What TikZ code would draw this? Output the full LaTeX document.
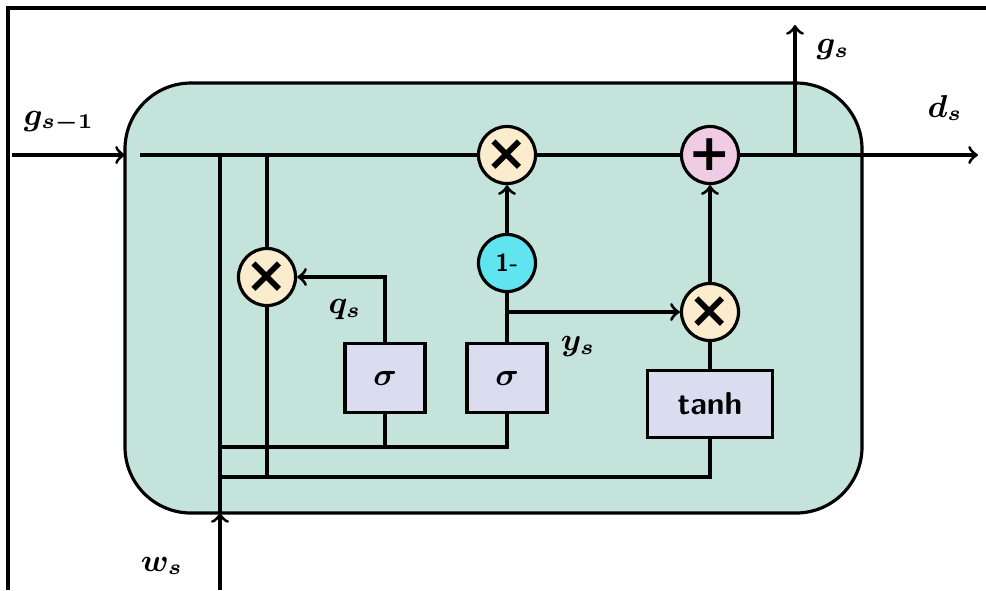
\documentclass[tikz,border=0pt]{standalone}
\usepackage{bm}
\usepackage{fontspec}
\newfontfamily\opfont{DejaVu Sans}
\definecolor{cellfill}{RGB}{196,227,218}
\definecolor{mulfill}{RGB}{250,236,204}
\definecolor{addfill}{RGB}{240,204,228}
\definecolor{onefill}{RGB}{96,228,240}
\definecolor{sigfill}{RGB}{218,221,240}
\begin{document}
\begin{tikzpicture}
	[
	x=0.01cm, y=-0.01cm,
	line width=0.9pt,
	mul/.style={draw = black, fill = mulfill, shape = circle, minimum size = 0.57cm, inner sep = 0pt, font = \opfont\bfseries\Large},
	addn/.style={draw = black, fill = addfill, shape = circle, minimum size = 0.57cm, inner sep = 0pt, font = \opfont\bfseries\Large},
	onen/.style={draw = black, fill = onefill, shape = circle, minimum size = 0.57cm, inner sep = 0pt, font = \sffamily\bfseries\scriptsize},
	gate/.style={draw = black, fill = sigfill, shape = rectangle, minimum width = 0.8cm, minimum height = 0.69cm, inner sep = 0pt, font = \small},
	lbl/.style={font = \small}
	]
	\useasboundingbox (0,0) rectangle (986,590);
	
	% page frame
	\draw[line width=1pt] (8,590) -- (8,8) -- (986,8);
	
	% cell
	\draw[fill = cellfill, rounded corners = 0.66cm] (125,83) rectangle (862,513);
	
	\node[mul](m1) at (507,155){×};
	\node[addn](add) at (710,155){+};
	\node[onen](one) at (507,263){1-};
	\node[mul](m2) at (710,312){×};
	\node[mul](m3) at (267,277){×};
	
	\node[gate](s1) at (385,378){$\bm{\sigma}$};
	\node[gate](s2) at (507,378){$\bm{\sigma}$};
	\node[gate, minimum width = 1.25cm, minimum height = 0.67cm, font = \sffamily\bfseries\small](th) at (710,404){tanh};
	
	\coordinate (gin) at (12,155);
	\coordinate (bin) at (125,155);
	\coordinate (lin) at (140,155);
	\coordinate (gout) at (978,155);
	\coordinate (gs) at (795,155);
	\coordinate (gtop) at (795,25);
	\coordinate (wbot) at (220,590);
	\coordinate (wtop) at (220,513);
	\coordinate (v1) at (220,155);
	\coordinate (v2) at (267,155);
	\coordinate (v2b) at (267,477);
	\coordinate (h1a) at (220,447);
	\coordinate (h1b) at (507,447);
	\coordinate (h1c) at (385,447);
	\coordinate (h2a) at (220,477);
	\coordinate (h2b) at (710,477);
	\coordinate (yb) at (507,312);
	
	% cell state line
	\draw[->](gin) -- (bin);
	\draw[-](lin) -- (m1);
	\draw[-](m1) -- (add);
	\draw[->](add) -- (gout);
	\draw[->](gs) -- (gtop);
	
	% inputs
	\draw[->](wbot) -- (wtop);
	\draw[-](v1) -- (wtop);
	\draw[-](v2) -- (m3);
	\draw[-](m3) -- (v2b);
	\draw[-](h1a) -- (h1b) -- (s2);
	\draw[-](s1) -- (h1c);
	\draw[-](h2a) -- (h2b) -- (th);
	
	% gates
	\draw[->](s1) |- (m3);
	\draw[-](s2) -- (one);
	\draw[->](one) -- (m1);
	\draw[->](yb) -- (m2);
	\draw[-](th) -- (m2);
	\draw[->](m2) -- (add);
	
	\node[lbl](lg1) at (59,122){$\bm{g_{s-1}}$};
	\node[lbl](lgs) at (833,50){$\bm{g_s}$};
	\node[lbl](lds) at (945,108){$\bm{d_s}$};
	\node[lbl](lws) at (162,566){$\bm{w_s}$};
	\node[lbl](lqs) at (345,310){$\bm{q_s}$};
	\node[lbl](lys) at (578,347){$\bm{y_s}$};
\end{tikzpicture}
\end{document}
